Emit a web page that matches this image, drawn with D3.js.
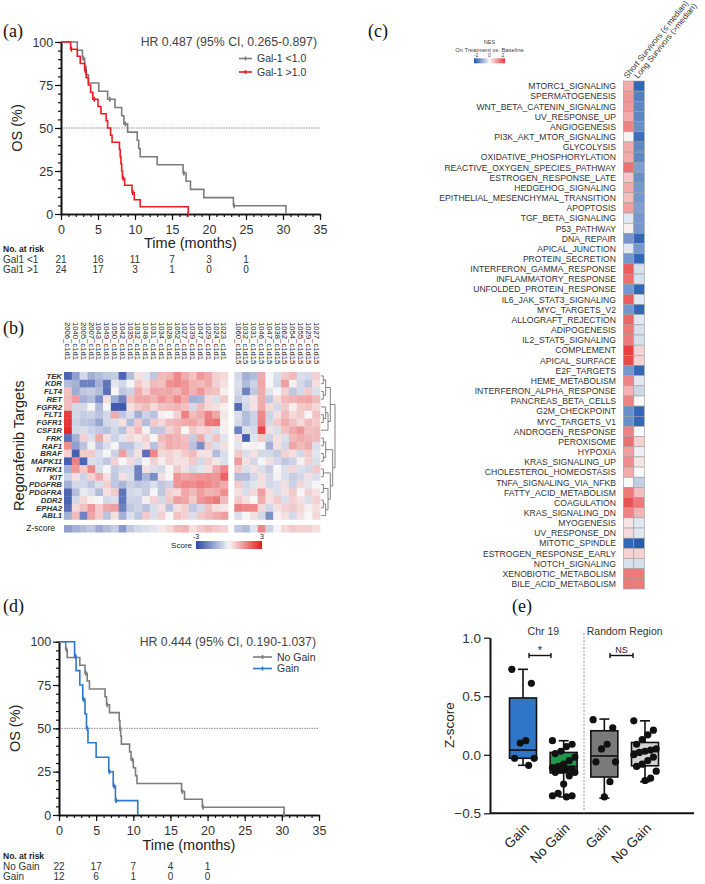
<!DOCTYPE html>
<html><head><meta charset="utf-8">
<script src="https://cdn.jsdelivr.net/npm/d3@7"></script>
<style>body{margin:0;background:#fff}svg{display:block;font-family:"Liberation Sans",Arial,sans-serif}</style>
</head><body>
<svg id="c" width="705" height="884"></svg>
<script>
// ---------------- DATA ----------------
// Panel (a) Kaplan-Meier, Gal-1
const gal1Low = [[0,100],[2.2,95.2],[2.9,90.5],[3.2,85.7],[3.4,81],[3.7,76.2],[5.1,71.4],[6.3,66.7],[7.3,61.9],[8.2,57.1],[8.5,52.4],[9.0,47.6],[10.3,42.9],[10.5,38.1],[10.7,33.3],[13.0,28.6],[16.5,23.8],[16.9,19.0],[17.5,14.3],[19.3,9.5],[23.3,4.8],[30.4,0]];
const gal1High = [[0,100],[1.3,95.8],[2.2,91.7],[2.6,87.5],[3.2,83.3],[3.4,79.2],[3.7,75],[4.0,70.8],[4.3,66.7],[5.0,62.5],[5.4,58.3],[6.1,54.2],[6.3,50],[6.7,45.8],[6.9,41.7],[7.9,37.5],[8.0,33.3],[8.1,29.2],[8.2,25],[8.3,20.8],[8.6,16.7],[9.6,12.5],[9.9,8.3],[10.7,4.2],[17.2,0]];
const gal1LowCensor = [3.0, 6.6, 8.7, 16.6, 23.4];
const gal1HighCensor = [1.4, 3.3, 4.5, 8.4, 9.7, 17.2];
const riskTimesA = [0,5,10,15,20,25];
const riskGal1Low = [21,16,11,7,3,1];
const riskGal1High = [24,17,3,1,0,0];

// Panel (d) Kaplan-Meier, Chr19 gain
const noGain = [[0,100],[0.9,95.5],[1.1,90.9],[2.8,86.4],[3.5,81.8],[3.8,77.3],[4.1,72.7],[6.2,68.2],[6.4,63.6],[6.8,59.1],[8.1,54.5],[8.2,50],[8.3,45.5],[8.4,40.9],[9.5,36.4],[9.7,31.8],[10.0,27.3],[10.3,22.7],[10.5,18.2],[16.5,13.6],[16.9,9.1],[19.3,4.5],[30.3,0]];
const gainKM = [[0,100],[2.1,91.7],[2.3,83.3],[2.8,75],[3.2,66.7],[3.5,58.3],[3.7,50],[3.9,41.7],[5.0,33.3],[6.7,25],[7.3,16.7],[7.6,8.3],[10.6,0]];
const noGainCensor = [1.0, 3.6, 6.5, 8.2, 9.9, 16.6, 19.4, 30.3];
const gainCensor = [2.2, 3.3, 3.8, 6.8, 7.4, 7.7];
const riskTimesD = [0,5,10,15,20];
const riskNoGain = [22,17,7,4,1];
const riskGain = [12,6,1,0,0];

// Panel (b) heatmap
const geneRows = ["TEK","KDR","FLT4","RET","FGFR2","FLT1","FGFR1","CSF1R","FRK","RAF1","BRAF","MAPK11","NTRK1","KIT","PDGFRB","PDGFRA","DDR2","EPHA2","ABL1"];
const colsC1D1 = ["2006_c1d1","1040_c1d1","2005_c1d1","2007_c1d1","1043_c1d1","1049_c1d1","1050_c1d1","1042_c1d1","1035_c1d1","1032_c1d1","1048_c1d1","1031_c1d1","1034_c1d1","1028_c1d1","1052_c1d1","1027_c1d1","1039_c1d1","1047_c1d1","1029_c1d1","1024_c1d1","1023_c1d1"];
const colsC1D15 = ["1060_c1d15","1032_c1d15","1031_c1d15","1046_c1d15","1047_c1d15","1038_c1d15","1062_c1d15","1054_c1d15","1055_c1d15","1029_c1d15","1027_c1d15"];
const scoresC1D1 = [
[-2.5,-1.5,-0.5,-1.2,-1.0,-0.8,-0.7,-2.5,-1.0,0.3,-0.3,-0.8,0.8,0.9,1.5,1.0,0.7,1.3,1.0,0.5,0.4],
[-1.0,-1.2,-2.0,-2.0,-1.2,-2.2,-0.3,-0.5,0.0,0.6,0.3,0.8,0.7,1.4,1.5,1.3,0.9,0.8,1.0,0.5,0.3],
[0.7,-1.3,-0.8,-0.7,-1.0,-2.3,0.0,-0.8,-0.6,1.0,0.5,1.1,1.0,1.1,0.9,1.3,0.9,1.3,0.8,0.7,0.1],
[0.8,1.2,-1.2,-1.0,-1.8,0.3,-1.3,-2.0,0.7,1.1,1.1,0.9,1.3,1.0,1.5,1.0,-1.2,-1.1,0.4,-0.4,0.6],
[0.8,-0.5,-0.5,0.0,-1.0,0.0,-2.7,-2.7,0.3,0.6,0.8,0.4,0.7,0.8,0.9,0.7,-0.5,0.8,0.4,0.3,0.1],
[2.5,-0.5,-0.7,-0.6,-0.9,-0.5,1.0,-0.8,-0.4,-1.2,-0.6,-0.9,0.1,0.0,0.5,1.6,0.8,1.0,1.6,1.1,0.2],
[2.6,-0.6,-0.8,-0.9,-1.4,-0.5,-0.4,0.3,-1.0,0.6,-1.0,0.6,0.4,0.8,0.9,1.0,1.1,0.8,1.7,1.8,0.1],
[2.8,-0.5,-0.4,-0.6,-0.8,-0.9,-0.5,-0.9,0.4,0.8,0.1,-0.8,-0.8,0.5,0.8,0.0,0.6,0.4,0.5,-0.4,0.1],
[-2.3,-1.2,0.5,-0.4,1.1,0.3,-0.6,-0.3,0.4,0.2,0.5,0.0,0.8,1.0,0.9,0.7,-0.7,1.0,-0.4,0.7,-0.3],
[1.4,-1.5,-0.9,0.1,-0.9,-0.4,0.0,-0.9,-0.9,-0.4,0.3,-0.9,0.6,1.0,0.9,0.8,-0.9,-1.8,0.6,-0.4,0.3],
[0.5,-2.6,0.6,0.6,-0.4,0.0,-0.6,1.2,-0.6,0.3,-2.3,1.5,0.4,0.5,0.3,0.6,0.8,0.3,0.3,-1.0,-0.4],
[-2.6,1.6,-2.5,-0.4,-0.5,-0.8,0.5,0.0,0.4,-0.5,0.0,0.5,0.1,0.5,0.3,0.3,0.6,-0.5,0.5,0.2,-0.4],
[-1.2,1.3,0.6,1.5,-0.4,0.0,-0.7,-0.5,-0.5,-2.0,0.3,-0.4,-0.5,0.0,0.6,0.3,-0.5,-0.3,0.3,1.0,1.5],
[-0.6,0.3,-0.6,0.5,1.0,0.3,-0.8,0.3,-0.4,-2.0,-1.1,-1.8,0.3,0.0,1.3,1.1,1.2,1.3,1.4,1.3,2.0],
[-1.2,-0.5,-0.5,-0.8,-0.4,0.5,-0.8,-1.1,-0.6,-0.8,-0.7,-0.4,-0.8,-0.6,1.3,1.5,1.4,1.6,1.5,1.3,1.0],
[-2.5,-1.0,-0.2,-0.4,-1.0,0.3,0.6,-2.2,-0.5,-0.4,-0.7,0.0,-0.8,0.5,0.4,1.1,0.8,1.2,0.9,1.0,1.4],
[-2.5,-0.5,0.4,0.1,0.0,-0.5,-0.4,-2.2,-0.6,-0.6,0.1,0.5,-0.5,0.6,1.2,1.1,0.6,1.3,1.5,1.7,0.8],
[-2.3,0.4,0.7,1.3,0.6,1.1,1.2,-2.0,-0.8,-0.6,-0.9,-0.4,0.3,-0.9,0.3,0.5,-0.8,-0.5,0.7,0.3,0.2],
[-1.2,0.8,-2.0,1.1,0.6,-0.9,0.3,-1.2,-0.4,-0.8,0.6,-0.4,0.5,0.0,0.7,0.5,-0.4,0.6,0.8,1.0,1.2]
];
const scoresC1D15 = [
[-0.5,-1.2,-1.0,1.0,0.0,-0.4,0.6,0.8,-0.4,-0.5,0.5],
[-0.4,-1.0,-0.6,1.1,0.0,-0.5,1.2,0.1,-0.5,-0.8,0.3],
[-0.5,-2.0,-0.8,1.0,-0.3,0.0,0.5,-0.8,-0.5,0.6,-0.4],
[-0.7,-0.4,0.3,1.0,-0.8,0.4,0.8,0.9,1.0,1.1,0.8],
[-2.4,-0.5,0.3,1.0,0.4,-0.5,0.6,0.1,0.6,0.7,0.4],
[-0.4,-1.0,-0.6,1.5,-0.6,0.3,0.8,0.4,0.6,0.0,0.7],
[-0.5,-1.0,-0.6,1.6,-0.5,0.6,1.0,0.7,0.4,0.8,0.6],
[-2.0,-0.4,-0.5,2.4,0.3,-0.4,0.7,1.0,1.3,0.7,0.8],
[0.3,-2.6,-0.3,0.6,-0.6,0.3,-0.4,0.8,1.0,0.9,0.8],
[-0.3,0.0,0.1,0.0,-1.2,0.3,-0.5,1.1,0.8,1.0,-0.4],
[0.6,-0.4,0.3,-0.5,-0.5,-0.7,0.5,0.3,-0.5,0.6,-0.3],
[1.2,0.3,-0.5,0.0,0.3,-0.5,-0.8,-0.6,0.1,0.5,-0.4],
[0.6,-0.4,0.3,-0.4,-0.7,0.0,-0.4,0.4,-0.4,-0.5,0.6],
[-1.0,-1.0,-0.5,0.3,-0.5,0.1,-0.4,-0.7,-0.5,0.3,-0.4],
[0.6,-0.5,-0.3,0.3,-0.5,-0.4,0.3,-0.6,0.4,-0.3,0.0],
[0.3,-0.4,0.4,1.2,0.3,-0.4,0.3,0.6,0.0,0.5,0.3],
[0.6,0.3,0.0,1.0,0.3,0.6,-0.4,0.5,0.3,-0.4,0.5],
[1.6,1.5,1.5,0.4,-0.5,0.3,0.5,0.6,0.4,0.1,0.3],
[-0.4,0.0,0.3,-0.5,-1.8,0.1,0.3,-0.5,0.3,0.0,0.4]
];
const zscoreC1D1 = [-1.5,-1.2,-1.0,-0.8,-1.3,-1.0,-0.7,-1.6,-0.8,-0.5,-0.4,-0.3,0.2,0.4,0.8,0.9,0.3,0.6,0.8,0.6,0.5];
const zscoreC1D15 = [-0.8,-1.0,-0.3,1.5,-0.6,0.0,0.4,0.6,0.5,0.5,0.3];
const geneTree = [[[["TEK","KDR"],["FLT4","RET"]],[["FGFR2",["FLT1","FGFR1"]],"CSF1R"]],[[["FRK","RAF1"],["BRAF","MAPK11"]],[["NTRK1","KIT"],[["PDGFRB","PDGFRA"],[["DDR2","EPHA2"],"ABL1"]]]]];

// Panel (c) NES heatmap
const pathways = ["MTORC1_SIGNALING","SPERMATOGENESIS","WNT_BETA_CATENIN_SIGNALING","UV_RESPONSE_UP","ANGIOGENESIS","PI3K_AKT_MTOR_SIGNALING","GLYCOLYSIS","OXIDATIVE_PHOSPHORYLATION","REACTIVE_OXYGEN_SPECIES_PATHWAY","ESTROGEN_RESPONSE_LATE","HEDGEHOG_SIGNALING","EPITHELIAL_MESENCHYMAL_TRANSITION","APOPTOSIS","TGF_BETA_SIGNALING","P53_PATHWAY","DNA_REPAIR","APICAL_JUNCTION","PROTEIN_SECRETION","INTERFERON_GAMMA_RESPONSE","INFLAMMATORY_RESPONSE","UNFOLDED_PROTEIN_RESPONSE","IL6_JAK_STAT3_SIGNALING","MYC_TARGETS_V2","ALLOGRAFT_REJECTION","ADIPOGENESIS","IL2_STAT5_SIGNALING","COMPLEMENT","APICAL_SURFACE","E2F_TARGETS","HEME_METABOLISM","INTERFERON_ALPHA_RESPONSE","PANCREAS_BETA_CELLS","G2M_CHECKPOINT","MYC_TARGETS_V1","ANDROGEN_RESPONSE","PEROXISOME","HYPOXIA","KRAS_SIGNALING_UP","CHOLESTEROL_HOMEOSTASIS","TNFA_SIGNALING_VIA_NFKB","FATTY_ACID_METABOLISM","COAGULATION","KRAS_SIGNALING_DN","MYOGENESIS","UV_RESPONSE_DN","MITOTIC_SPINDLE","ESTROGEN_RESPONSE_EARLY","NOTCH_SIGNALING","XENOBIOTIC_METABOLISM","BILE_ACID_METABOLISM"];
const survivorGroups = ["Short Survivors (\u2264 median)","Long Survivors (>median)"];
const nesShort = [0.8,1.0,1.0,0.8,1.2,0.05,0.8,0.8,1.4,0.5,0.8,0.6,0.9,-0.2,0.1,-1.2,-0.2,-1.2,1.6,1.4,-1.2,1.6,-1.2,1.5,1.3,1.3,1.9,1.8,-1.2,1.2,0.7,1.2,-1.3,-1.3,1.2,1.4,0.9,1.1,0.8,0.0,1.3,1.7,1.2,0.2,0.3,-1.8,0.4,-0.3,1.3,1.3];
const nesLong = [-1.8,-1.5,-1.4,-1.4,-1.3,-1.7,-1.4,-1.4,-1.1,-1.3,-1.2,-1.2,-1.1,-1.2,-1.2,-1.8,-1.2,-1.8,-0.3,-0.3,-1.8,-0.2,-1.8,-0.2,-0.3,-0.3,0.4,0.4,-1.8,-0.2,-0.4,0.0,-1.8,-1.8,0.0,0.4,-0.1,0.2,0.0,-0.5,0.6,1.3,0.7,-0.2,-0.2,-1.9,0.4,-0.3,1.3,1.3];

// Panel (e) box plots
const boxGroups = ["Chr19 Gain","Chr19 No Gain","Random Gain","Random No Gain"];
const boxLabels = ["Gain","No Gain","Gain","No Gain"];
const boxColors = ["#2f76c8","#1f9a4c","#7a7a7a","#d3d3d3"];
const boxMin = [-0.09,-0.36,-0.37,-0.23];
const boxQ1 = [-0.03,-0.155,-0.19,-0.094];
const boxMedian = [0.04,-0.10,-0.01,0.03];
const boxQ3 = [0.485,0.02,0.205,0.105];
const boxMax = [0.73,0.12,0.305,0.29];
const ptsChr19Gain = [0.73,0.61,0.12,0.10,-0.03,-0.03,-0.09];
const ptsChr19NoGain = [0.12,0.09,0.07,0.03,0.01,-0.02,-0.05,-0.08,-0.10,-0.11,-0.12,-0.12,-0.13,-0.15,-0.15,-0.18,-0.25,-0.33,-0.35,-0.35,-0.36];
const ptsRandomGain = [0.30,0.23,0.09,0.05,-0.06,-0.06,-0.23,-0.36];
const ptsRandomNoGain = [0.29,0.21,0.17,0.13,0.09,0.05,0.04,0.03,0.02,0.0,-0.02,-0.05,-0.08,-0.10,-0.14,-0.20,-0.22];
const zTicks = [-0.5,0.0,0.5,1.0];

// ---------------- DRAW ----------------
const svg = d3.select("#c");
function panelLabel(t,x,y){svg.append("text").attr("x",x).attr("y",y).attr("font-family","'Liberation Serif',serif").attr("font-size",18).attr("fill","#111").text(t);}
function styleAxis(g,fs){g.select(".domain").attr("stroke","#111").attr("stroke-width",1.6);g.selectAll(".tick line").attr("stroke","#111").attr("stroke-width",1.2);g.selectAll(".tick text").attr("fill","#333").attr("font-size",fs).attr("font-family","'Liberation Sans',Arial,sans-serif");}

function km(cfg){
  const x=d3.scaleLinear().domain([0,35]).range(cfg.xr);
  const y=d3.scaleLinear().domain([0,100]).range(cfg.yr);
  const g=svg.append("g");
  g.append("line").attr("x1",x(0)).attr("x2",x(35)).attr("y1",y(50)).attr("y2",y(50)).attr("stroke","#8c8c8c").attr("stroke-width",1).attr("stroke-dasharray","1.5,1");
  const gxm=g.append("g").attr("transform",`translate(0,${y(0)})`).call(d3.axisBottom(x).tickValues(d3.range(0,36,1)).tickSize(3).tickSizeOuter(0).tickFormat(""));
  styleAxis(gxm,11);
  const gx=g.append("g").attr("transform",`translate(0,${y(0)})`).call(d3.axisBottom(x).tickValues(d3.range(0,36,5)).tickSize(6).tickSizeOuter(0));
  styleAxis(gx,12.5); gx.selectAll(".tick text").attr("dy","0.85em");
  const gym=g.append("g").attr("transform",`translate(${x(0)},0)`).call(d3.axisLeft(y).tickValues(d3.range(0,101,5)).tickSize(3).tickSizeOuter(0).tickFormat(""));
  styleAxis(gym,11);
  const gy=g.append("g").attr("transform",`translate(${x(0)},0)`).call(d3.axisLeft(y).tickValues([0,25,50,75,100]).tickSize(6).tickSizeOuter(0));
  styleAxis(gy,12.5); gy.selectAll(".tick text").attr("dx","0.1em");
  const line=d3.line().x(d=>x(d[0])).y(d=>y(d[1])).curve(d3.curveStepAfter);
  cfg.series.forEach(s=>{
    g.append("path").attr("d",line(s.data)).attr("fill","none").attr("stroke",s.color).attr("stroke-width",1.6);
    s.censor.forEach(t=>{
      let v=100; s.data.forEach(p=>{if(p[0]<=t)v=p[1];});
      g.append("line").attr("x1",x(t)).attr("x2",x(t)).attr("y1",y(v)-2.5).attr("y2",y(v)+2.5).attr("stroke",s.color).attr("stroke-width",1.6);
    });
  });
  g.append("text").attr("x",x(35)-3).attr("y",cfg.yr[1]+4).attr("text-anchor","end").attr("font-size",12.3).attr("fill","#444").text(cfg.hr);
  cfg.series.forEach((s,i)=>{
    const ly=cfg.legY+i*cfg.legDy;
    g.append("line").attr("x1",cfg.legX).attr("x2",cfg.legX+cfg.legW).attr("y1",ly).attr("y2",ly).attr("stroke",s.color).attr("stroke-width",1.6);
    g.append("line").attr("x1",cfg.legX+cfg.legW/2).attr("x2",cfg.legX+cfg.legW/2).attr("y1",ly-2).attr("y2",ly+2).attr("stroke",s.color).attr("stroke-width",1.6);
    g.append("text").attr("x",cfg.legX+cfg.legW+5).attr("y",ly+3.5).attr("font-size",10.5).attr("fill","#333").text(s.name);
  });
  g.append("text").attr("transform",`translate(${cfg.yLabX},${(cfg.yr[0]+cfg.yr[1])/2}) rotate(-90)`).attr("text-anchor","middle").attr("font-size",14.5).attr("fill","#222").text("OS (%)");
  g.append("text").attr("x",(x(0)+x(35))/2).attr("y",cfg.xLabY).attr("text-anchor","middle").attr("font-size",14.5).attr("fill","#222").text("Time (months)");
  g.append("text").attr("x",3).attr("y",cfg.riskY).attr("font-size",8.5).attr("font-weight","bold").attr("fill","#222").text("No. at risk");
  cfg.risk.forEach((r,i)=>{
    const ry=cfg.riskY+10.5*(i+1);
    g.append("text").attr("x",3).attr("y",ry).attr("font-size",10).attr("fill","#333").text(r.name);
    r.vals.forEach((v,j)=>g.append("text").attr("x",x(cfg.riskTimes[j])).attr("y",ry).attr("text-anchor","middle").attr("font-size",10).attr("fill","#333").text(v));
  });
}

km({xr:[61,320],yr:[214,42],hr:"HR 0.487 (95% CI, 0.265-0.897)",legX:239,legW:13,legY:58.5,legDy:13.5,yLabX:22,xLabY:248,riskY:252,riskTimes:riskTimesA,
  series:[{name:"Gal-1 <1.0",color:"#7d7d7d",data:gal1Low,censor:gal1LowCensor},{name:"Gal-1 >1.0",color:"#ec1c24",data:gal1High,censor:gal1HighCensor}],
  risk:[{name:"Gal1 <1",vals:riskGal1Low},{name:"Gal1 >1",vals:riskGal1High}]});
km({xr:[59,319],yr:[815,641.7],hr:"HR 0.444 (95% CI, 0.190-1.037)",legX:253,legW:19,legY:657,legDy:11.5,yLabX:20,xLabY:850,riskY:859,riskTimes:riskTimesD,
  series:[{name:"No Gain",color:"#7d7d7d",data:noGain,censor:noGainCensor},{name:"Gain",color:"#2b78cc",data:gainKM,censor:gainCensor}],
  risk:[{name:"No Gain",vals:riskNoGain},{name:"Gain",vals:riskGain}]});
panelLabel("(a)",3,37);
panelLabel("(d)",3,612);

// ---- Panel (b)
panelLabel("(b)",3,334);
const heatColor=d3.scaleLinear().domain([-3,0,3]).range(["#2a48a6","#f6f6f6","#e5191c"]).clamp(true);
const rowY=d3.scaleBand().domain(geneRows).range([372,519.5]);
const xL=d3.scaleBand().domain(colsC1D1).range([64,228]);
const xR=d3.scaleBand().domain(colsC1D15).range([234.3,320.1]);
const gb=svg.append("g");
function heatBlock(cols,xs,mat){
  geneRows.forEach((gname,ri)=>{
    cols.forEach((c,ci)=>{
      gb.append("rect").attr("x",xs(c)).attr("y",rowY(gname)).attr("width",xs.bandwidth()+0.3).attr("height",rowY.bandwidth()+0.3).attr("fill",heatColor(mat[ri][ci]));
    });
  });
  cols.forEach(c=>{
    gb.append("text").attr("transform",`translate(${xs(c)+xs.bandwidth()/2-2.7},322) rotate(90)`).attr("font-size",7.7).attr("fill","#222").text(c);
  });
}
heatBlock(colsC1D1,xL,scoresC1D1);
heatBlock(colsC1D15,xR,scoresC1D15);
geneRows.forEach(gname=>gb.append("text").attr("x",62).attr("y",rowY(gname)+rowY.bandwidth()/2+2.8).attr("text-anchor","end").attr("font-size",7.8).attr("font-style","italic").attr("font-weight","bold").attr("fill","#333").text(gname));
gb.append("text").attr("transform",`translate(24,${(372+519.5)/2}) rotate(-90)`).attr("text-anchor","middle").attr("font-size",14.5).attr("fill","#222").text("Regorafenib Targets");
// z-score row
const zTop=525, zH=7.5;
colsC1D1.forEach((c,i)=>gb.append("rect").attr("x",xL(c)).attr("y",zTop).attr("width",xL.bandwidth()+0.3).attr("height",zH).attr("fill",heatColor(zscoreC1D1[i])));
colsC1D15.forEach((c,i)=>gb.append("rect").attr("x",xR(c)).attr("y",zTop).attr("width",xR.bandwidth()+0.3).attr("height",zH).attr("fill",heatColor(zscoreC1D15[i])));
gb.append("text").attr("x",55).attr("y",zTop+6).attr("text-anchor","end").attr("font-size",8.5).attr("fill","#222").text("Z-score");
// colour bar
const cbX=d3.scaleLinear().domain([-3,3]).range([196,262]);
const grad=svg.append("defs").append("linearGradient").attr("id","gscore");
[-3,-1.5,0,1.5,3].forEach(v=>grad.append("stop").attr("offset",(v+3)/6).attr("stop-color",heatColor(v)));
gb.append("rect").attr("x",cbX(-3)).attr("y",541).attr("width",cbX(3)-cbX(-3)).attr("height",8).attr("fill","url(#gscore)");
[-3,3].forEach(v=>gb.append("text").attr("x",cbX(v)).attr("y",539).attr("text-anchor","middle").attr("font-size",7).attr("fill","#222").text(v));
gb.append("text").attr("x",192).attr("y",548).attr("text-anchor","end").attr("font-size",8).attr("fill","#222").text("Score");
// dendrogram
const root=d3.hierarchy(geneTree,d=>Array.isArray(d)?d:null);
const dStep=14/root.height;
root.eachAfter(n=>{
  if(!n.children){n.py=rowY(n.data)+rowY.bandwidth()/2;}
  else{n.py=(n.children[0].py+n.children[n.children.length-1].py)/2;}
  n.px=321+n.height*dStep;
});
root.each(n=>{
  if(n.children){
    gb.append("line").attr("x1",n.px).attr("x2",n.px).attr("y1",n.children[0].py).attr("y2",n.children[n.children.length-1].py).attr("stroke","#666").attr("stroke-width",0.8);
    n.children.forEach(c=>gb.append("line").attr("x1",c.px).attr("x2",n.px).attr("y1",c.py).attr("y2",c.py).attr("stroke","#666").attr("stroke-width",0.8));
  }
});

// ---- Panel (c)
panelLabel("(c)",368,37);
const nesColor=d3.scaleLinear().domain([-2,0,2]).range(["#1c56b0","#f8f8f8","#e83535"]).clamp(true);
const pY=d3.scaleBand().domain(pathways).range([81,589]);
const pX=d3.scaleBand().domain(survivorGroups).range([623.3,644.3]);
const gc=svg.append("g");
pathways.forEach((p,i)=>{
  [nesShort[i],nesLong[i]].forEach((v,j)=>{
    gc.append("rect").attr("x",pX(survivorGroups[j])).attr("y",pY(p)).attr("width",pX.bandwidth()).attr("height",pY.bandwidth()).attr("fill",nesColor(v)).attr("stroke","#a0a0a0").attr("stroke-width",0.6);
  });
  gc.append("text").attr("x",616).attr("y",pY(p)+pY.bandwidth()/2+3.2).attr("text-anchor","end").attr("font-size",8.6).attr("fill","#333").text(p);
});
survivorGroups.forEach(sg=>gc.append("text").attr("transform",`translate(${pX(sg)+pX.bandwidth()/2-1},79) rotate(-51)`).attr("font-size",8.2).attr("fill","#333").text(sg));
const nesX=d3.scaleLinear().domain([-2,2]).range([474,505]);
const grad2=svg.select("defs").append("linearGradient").attr("id","gnes");
[-2,-1,0,1,2].forEach(v=>grad2.append("stop").attr("offset",(v+2)/4).attr("stop-color",nesColor(v)));
gc.append("text").attr("x",489.5).attr("y",44).attr("text-anchor","middle").attr("font-size",5.5).attr("fill","#444").text("NES");
gc.append("text").attr("x",489.5).attr("y",51.5).attr("text-anchor","middle").attr("font-size",5.8).attr("fill","#444").text("On Treatment vs. Baseline");
gc.append("rect").attr("x",nesX(-2)).attr("y",58.3).attr("width",nesX(2)-nesX(-2)).attr("height",5).attr("fill","url(#gnes)");
[-2,0,2].forEach(v=>gc.append("text").attr("x",nesX(v)+(v===-2?2:v===2?-2:0)).attr("y",57).attr("text-anchor","middle").attr("font-size",5).attr("fill","#444").text(v));

// ---- Panel (e)
panelLabel("(e)",512,612);
const ey=d3.scaleLinear().domain([-0.5,1.0]).range([813.3,637.7]);
const ex=d3.scalePoint().domain(boxGroups).range([523,645]);
const ge=svg.append("g");
const gey=ge.append("g").attr("transform","translate(490,0)").call(d3.axisLeft(ey).tickValues(zTicks).tickFormat(d3.format(".1f")).tickSize(6).tickSizeOuter(0));
styleAxis(gey,13.5); gey.select(".domain").attr("stroke-width",2);
ge.append("line").attr("x1",490).attr("x2",694).attr("y1",ey(-0.5)).attr("y2",ey(-0.5)).attr("stroke","#111").attr("stroke-width",2);
const sepX=(ex(boxGroups[1])+ex(boxGroups[2]))/2;
ge.append("line").attr("x1",sepX).attr("x2",sepX).attr("y1",633).attr("y2",ey(-0.5)).attr("stroke","#888").attr("stroke-width",0.9).attr("stroke-dasharray","2,1.5");
ge.append("text").attr("transform","translate(454,725) rotate(-90)").attr("text-anchor","middle").attr("font-size",13.5).attr("fill","#222").text("Z-score");
ge.append("text").attr("x",(ex(boxGroups[0])+ex(boxGroups[1]))/2).attr("y",635).attr("text-anchor","middle").attr("font-size",10.5).attr("fill","#333").text("Chr 19");
ge.append("text").attr("x",(ex(boxGroups[2])+ex(boxGroups[3]))/2).attr("y",635).attr("text-anchor","middle").attr("font-size",10.5).attr("fill","#333").text("Random Region");
const pts=[ptsChr19Gain,ptsChr19NoGain,ptsRandomGain,ptsRandomNoGain];
const bw=27;
boxGroups.forEach((gname,i)=>{
  const cx=ex(gname);
  ge.append("line").attr("x1",cx).attr("x2",cx).attr("y1",ey(boxMax[i])).attr("y2",ey(boxMin[i])).attr("stroke","#111").attr("stroke-width",1.6);
  [boxMax[i],boxMin[i]].forEach(v=>ge.append("line").attr("x1",cx-5).attr("x2",cx+5).attr("y1",ey(v)).attr("y2",ey(v)).attr("stroke","#111").attr("stroke-width",1.6));
  ge.append("rect").attr("x",cx-bw/2).attr("y",ey(boxQ3[i])).attr("width",bw).attr("height",ey(boxQ1[i])-ey(boxQ3[i])).attr("fill",boxColors[i]).attr("stroke","#111").attr("stroke-width",1.6);
  ge.append("line").attr("x1",cx-bw/2).attr("x2",cx+bw/2).attr("y1",ey(boxMedian[i])).attr("y2",ey(boxMedian[i])).attr("stroke","#111").attr("stroke-width",1.6);
  pts[i].forEach((v,k)=>{
    const off=((k*7)%9-4)*2.8;
    ge.append("circle").attr("cx",cx+off).attr("cy",ey(v)).attr("r",3.6).attr("fill","#111");
  });
  ge.append("text").attr("transform",`translate(${cx+7},829) rotate(-45)`).attr("text-anchor","end").attr("font-size",13.5).attr("fill","#222").text(boxLabels[i]);
});
function sig(x1,x2,y,t,fs,dy){
  ge.append("line").attr("x1",x1).attr("x2",x2).attr("y1",y).attr("y2",y).attr("stroke","#111").attr("stroke-width",1.4);
  [x1,x2].forEach(xx=>ge.append("line").attr("x1",xx).attr("x2",xx).attr("y1",y-2.5).attr("y2",y+2.5).attr("stroke","#111").attr("stroke-width",1.4));
  ge.append("text").attr("x",(x1+x2)/2).attr("y",y+dy).attr("text-anchor","middle").attr("font-size",fs).attr("fill","#222").text(t);
}
sig(529,551,655.5,"*",11,-1.5);
sig(610,633,655.5,"NS",9,-3);
</script>
</body></html>
